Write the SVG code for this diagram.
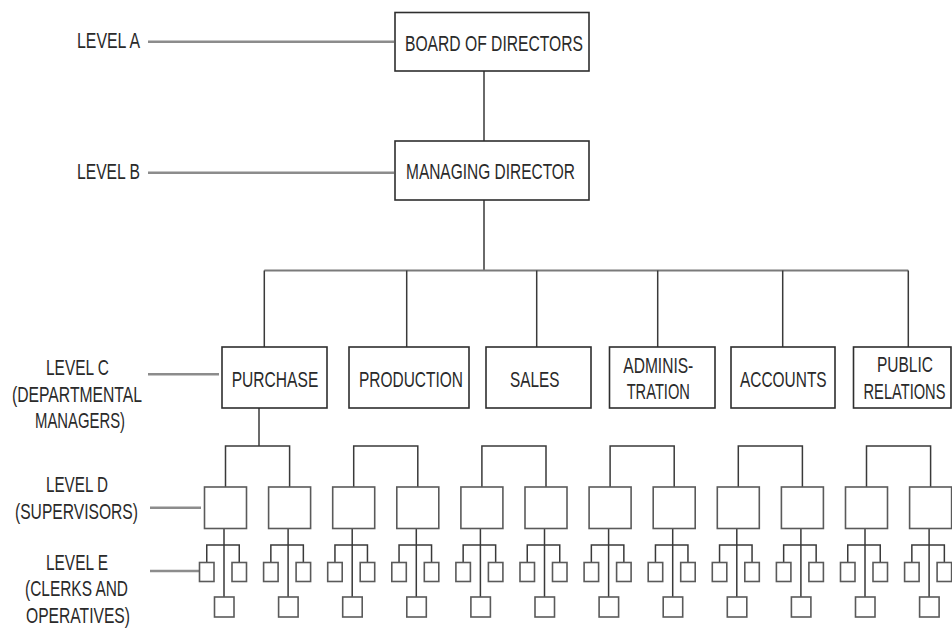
<svg xmlns="http://www.w3.org/2000/svg" width="952" height="628" viewBox="0 0 952 628">
<style>
  .box{fill:#fff;stroke:#2e2e2e;stroke-width:1.6}
  .sbox{fill:#fff;stroke:#5a5a5a;stroke-width:1.6}
  .conn{fill:none;stroke:#3a3a3a;stroke-width:1.5}
  .lvl{fill:none;stroke:#8c8c8c;stroke-width:2.4}
  .bus{fill:none;stroke:#7a7a7a;stroke-width:2.2}
  .t{font-family:"Liberation Sans",Arial,sans-serif;font-size:22px;fill:#2a2a2a;text-anchor:middle}
</style>
<rect width="952" height="628" fill="#fff"/>

<g id="connectors">
  <path class="lvl" d="M148,41.7H394 M148,172.7H394 M148,374.3H219 M150,507.7H201 M150,571H199"/>
  <path class="conn" d="M484,71V141 M484,200V270.5"/>
  <path class="bus" d="M264.3,270.5H908.3"/>
  <path class="conn" d="M264.3,270.5V347 M406.7,270.5V347 M536.7,270.5V347 M657.7,270.5V347 M782.7,270.5V347 M908.3,270.5V347"/>
  <path class="conn" d="M259,408V446"/>
  <path class="conn" d="M225.5,487V446H289.6V487 M353.7,487V446H417.8V487 M481.9,487V446H546V487 M610.1,487V446H674.2V487 M738.3,487V446H802.4V487 M866.5,487V446H930.6V487"/>
  <path class="conn" d="M224,528.5V597 M206.75,562.5V545H239.25V562.5
    M288.1,528.5V597 M270.85,562.5V545H303.35V562.5
    M352.2,528.5V597 M334.95,562.5V545H367.45V562.5
    M416.3,528.5V597 M399.05,562.5V545H431.55V562.5
    M480.4,528.5V597 M463.15,562.5V545H495.65V562.5
    M544.5,528.5V597 M527.25,562.5V545H559.75V562.5
    M608.6,528.5V597 M591.35,562.5V545H623.85V562.5
    M672.7,528.5V597 M655.45,562.5V545H687.95V562.5
    M736.8,528.5V597 M719.55,562.5V545H752.05V562.5
    M800.9,528.5V597 M783.65,562.5V545H816.15V562.5
    M865,528.5V597 M847.75,562.5V545H880.25V562.5
    M929.1,528.5V597 M911.85,562.5V545H944.35V562.5"/>
</g>

<g id="level-labels">
  <text class="t" x="108.5" y="48.3" textLength="63" lengthAdjust="spacingAndGlyphs">LEVEL A</text>
  <text class="t" x="108.5" y="179" textLength="63" lengthAdjust="spacingAndGlyphs">LEVEL B</text>
  <text class="t" x="77.5" y="375" textLength="63" lengthAdjust="spacingAndGlyphs">LEVEL C</text>
  <text class="t" x="77" y="402" textLength="130" lengthAdjust="spacingAndGlyphs">(DEPARTMENTAL</text>
  <text class="t" x="80" y="428" textLength="90" lengthAdjust="spacingAndGlyphs">MANAGERS)</text>
  <text class="t" x="77" y="491.7" textLength="62" lengthAdjust="spacingAndGlyphs">LEVEL D</text>
  <text class="t" x="76.5" y="518.5" textLength="123" lengthAdjust="spacingAndGlyphs">(SUPERVISORS)</text>
  <text class="t" x="77" y="570" textLength="62" lengthAdjust="spacingAndGlyphs">LEVEL E</text>
  <text class="t" x="76.5" y="596" textLength="103" lengthAdjust="spacingAndGlyphs">(CLERKS AND</text>
  <text class="t" x="78" y="623" textLength="104" lengthAdjust="spacingAndGlyphs">OPERATIVES)</text>
</g>

<g id="board">
  <rect class="box" x="395" y="12.5" width="194" height="58.5"/>
  <text class="t" x="494" y="50.7" textLength="178" lengthAdjust="spacingAndGlyphs">BOARD OF DIRECTORS</text>
</g>
<g id="managing-director">
  <rect class="box" x="395" y="141" width="194" height="59"/>
  <text class="t" x="490.5" y="179" textLength="169" lengthAdjust="spacingAndGlyphs">MANAGING DIRECTOR</text>
</g>

<g id="purchase">
  <rect class="box" x="222" y="347" width="105" height="61"/>
  <text class="t" x="275" y="386.7" textLength="86.6" lengthAdjust="spacingAndGlyphs">PURCHASE</text>
</g>
<g id="production">
  <rect class="box" x="349" y="347" width="120" height="61"/>
  <text class="t" x="411" y="386.7" textLength="104" lengthAdjust="spacingAndGlyphs">PRODUCTION</text>
</g>
<g id="sales">
  <rect class="box" x="486" y="347" width="105" height="61"/>
  <text class="t" x="534.7" y="386.7" textLength="49.3" lengthAdjust="spacingAndGlyphs">SALES</text>
</g>
<g id="administration">
  <rect class="box" x="609.5" y="347" width="105.5" height="61"/>
  <text class="t" x="658.3" y="372.7" textLength="70" lengthAdjust="spacingAndGlyphs">ADMINIS-</text>
  <text class="t" x="658.3" y="399" textLength="63.3" lengthAdjust="spacingAndGlyphs">TRATION</text>
</g>
<g id="accounts">
  <rect class="box" x="731" y="347" width="104" height="61"/>
  <text class="t" x="783.3" y="386.7" textLength="86.7" lengthAdjust="spacingAndGlyphs">ACCOUNTS</text>
</g>
<g id="public-relations">
  <rect class="box" x="853.5" y="347" width="97.5" height="61"/>
  <text class="t" transform="translate(905,371.7) scale(0.705,1)" x="0" y="0">PUBLIC</text>
  <text class="t" transform="translate(904.5,399) scale(0.666,1)" x="0" y="0">RELATIONS</text>
</g>

<g id="supervisors">
  <rect class="sbox" x="204.5" y="487" width="42" height="41.5"/>
  <rect class="sbox" x="268.6" y="487" width="42" height="41.5"/>
  <rect class="sbox" x="332.7" y="487" width="42" height="41.5"/>
  <rect class="sbox" x="396.8" y="487" width="42" height="41.5"/>
  <rect class="sbox" x="460.9" y="487" width="42" height="41.5"/>
  <rect class="sbox" x="525" y="487" width="42" height="41.5"/>
  <rect class="sbox" x="589.1" y="487" width="42" height="41.5"/>
  <rect class="sbox" x="653.2" y="487" width="42" height="41.5"/>
  <rect class="sbox" x="717.3" y="487" width="42" height="41.5"/>
  <rect class="sbox" x="781.4" y="487" width="42" height="41.5"/>
  <rect class="sbox" x="845.5" y="487" width="42" height="41.5"/>
  <rect class="sbox" x="909.6" y="487" width="42" height="41.5"/>
</g>

<g id="clerks">
  <rect class="sbox" x="199.5" y="562.5" width="14.5" height="19"/><rect class="sbox" x="232" y="562.5" width="14.5" height="19"/><rect class="sbox" x="214.5" y="597" width="19.5" height="20"/>
  <rect class="sbox" x="263.6" y="562.5" width="14.5" height="19"/><rect class="sbox" x="296.1" y="562.5" width="14.5" height="19"/><rect class="sbox" x="278.6" y="597" width="19.5" height="20"/>
  <rect class="sbox" x="327.7" y="562.5" width="14.5" height="19"/><rect class="sbox" x="360.2" y="562.5" width="14.5" height="19"/><rect class="sbox" x="342.7" y="597" width="19.5" height="20"/>
  <rect class="sbox" x="391.8" y="562.5" width="14.5" height="19"/><rect class="sbox" x="424.3" y="562.5" width="14.5" height="19"/><rect class="sbox" x="406.8" y="597" width="19.5" height="20"/>
  <rect class="sbox" x="455.9" y="562.5" width="14.5" height="19"/><rect class="sbox" x="488.4" y="562.5" width="14.5" height="19"/><rect class="sbox" x="470.9" y="597" width="19.5" height="20"/>
  <rect class="sbox" x="520" y="562.5" width="14.5" height="19"/><rect class="sbox" x="552.5" y="562.5" width="14.5" height="19"/><rect class="sbox" x="535" y="597" width="19.5" height="20"/>
  <rect class="sbox" x="584.1" y="562.5" width="14.5" height="19"/><rect class="sbox" x="616.6" y="562.5" width="14.5" height="19"/><rect class="sbox" x="599.1" y="597" width="19.5" height="20"/>
  <rect class="sbox" x="648.2" y="562.5" width="14.5" height="19"/><rect class="sbox" x="680.7" y="562.5" width="14.5" height="19"/><rect class="sbox" x="663.2" y="597" width="19.5" height="20"/>
  <rect class="sbox" x="712.3" y="562.5" width="14.5" height="19"/><rect class="sbox" x="744.8" y="562.5" width="14.5" height="19"/><rect class="sbox" x="727.3" y="597" width="19.5" height="20"/>
  <rect class="sbox" x="776.4" y="562.5" width="14.5" height="19"/><rect class="sbox" x="808.9" y="562.5" width="14.5" height="19"/><rect class="sbox" x="791.4" y="597" width="19.5" height="20"/>
  <rect class="sbox" x="840.5" y="562.5" width="14.5" height="19"/><rect class="sbox" x="873" y="562.5" width="14.5" height="19"/><rect class="sbox" x="855.5" y="597" width="19.5" height="20"/>
  <rect class="sbox" x="904.6" y="562.5" width="14.5" height="19"/><rect class="sbox" x="937.1" y="562.5" width="14.5" height="19"/><rect class="sbox" x="919.6" y="597" width="19.5" height="20"/>
</g>
</svg>
